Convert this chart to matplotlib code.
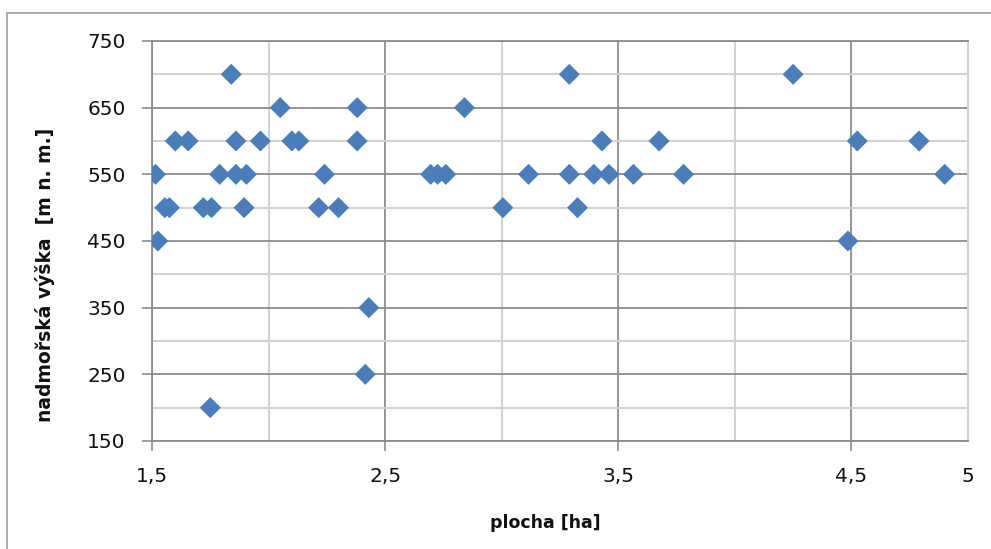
import numpy as np
import matplotlib
matplotlib.use("Agg")
import matplotlib.pyplot as plt
from matplotlib.patches import Rectangle

# ---------------------------
# data: area [ha] vs. altitude [m n. m.]
# ---------------------------
plocha = [1.84, 3.29, 4.25,
          2.05, 2.38, 2.84,
          1.60, 1.655, 1.86, 1.965, 2.10, 2.13, 2.38, 3.43, 3.675, 4.525, 4.79,
          1.515, 1.79, 1.86, 1.905, 2.24, 2.695, 2.725, 2.76, 3.115, 3.29, 3.395,
          3.46, 3.565, 3.78, 4.90,
          1.555, 1.575, 1.72, 1.755, 1.895, 2.215, 2.30, 3.005, 3.325,
          1.525, 4.485,
          2.43, 2.415, 1.75]
vyska = [700, 700, 700,
         650, 650, 650,
         600, 600, 600, 600, 600, 600, 600, 600, 600, 600, 600,
         550, 550, 550, 550, 550, 550, 550, 550, 550, 550, 550,
         550, 550, 550, 550,
         500, 500, 500, 500, 500, 500, 500, 500, 500,
         450, 450,
         350, 250, 200]

x_ticks = [1.5, 2.5, 3.5, 4.5, 5]
x_ticklabels = ["1,5", "2,5", "3,5", "4,5", "5"]
y_ticks = [150, 250, 350, 450, 550, 650, 750]

blue = "#4A7EBB"
major_c = "#8C8C8C"
minor_c = "#D2D2D2"

fig = plt.figure(figsize=(9.91, 5.49), dpi=100)
ax = fig.add_axes([152 / 991, 1 - 441 / 549, (968 - 152) / 991, (441 - 41) / 549])

# outer chart frame (Excel style), right and bottom edges fall outside the image
fig.patches.append(Rectangle((7 / 991, -0.5), 2.0, 1 - 13 / 549 + 0.5,
                             transform=fig.transFigure, fill=False,
                             edgecolor="#A6A6A6", linewidth=1.3))

ax.scatter(plocha, vyska, marker="D", s=115, color=blue, edgecolors="none", zorder=3)

ax.set_xlim(1.5, 5)
ax.set_ylim(150, 750)
ax.set_xticks(x_ticks)
ax.set_xticklabels(x_ticklabels)
ax.set_yticks(y_ticks)
ax.set_xticks([2.0, 3.0, 4.0], minor=True)
ax.set_yticks(np.arange(200, 750, 100), minor=True)

ax.grid(which="major", color=major_c, linewidth=1.3, zorder=1)
ax.grid(which="minor", color=minor_c, linewidth=1.5, zorder=0)
ax.set_axisbelow(True)

ax.tick_params(which="major", length=7, width=1.2, color=major_c,
               labelsize=14.5, pad=12, labelcolor="#111111")
ax.tick_params(which="minor", length=0)

# last x tick (5): only the label, no tick mark or dark grid line
last = ax.xaxis.get_major_ticks()[-1]
last.tick1line.set_visible(False)
last.gridline.set_visible(False)

for side in ["left", "bottom", "top"]:
    ax.spines[side].set_color(major_c)
    ax.spines[side].set_linewidth(1.3)
ax.spines["right"].set_color(minor_c)
ax.spines["right"].set_linewidth(1.5)

fig.text(545 / 991, 1 - 523 / 549, "plocha [ha]", ha="center", va="center",
         fontsize=12.5, fontweight="bold", color="#111111")
fig.text(45 / 991, 1 - 275 / 549, "nadmořská výška  [m n. m.]", ha="center", va="center",
         rotation=90, fontsize=13.5, fontweight="bold", color="#111111")

fig.savefig("out.png", dpi=100)
